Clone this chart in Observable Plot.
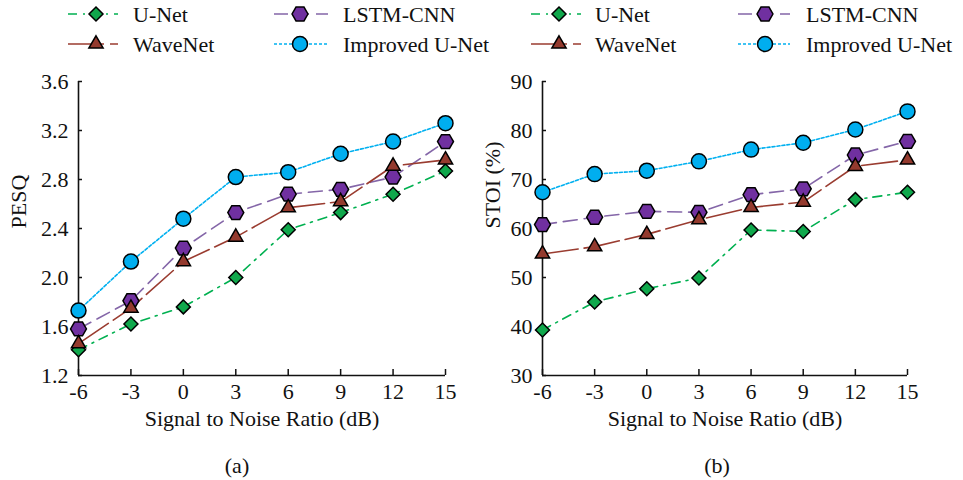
<!DOCTYPE html>
<html>
<head>
<meta charset="utf-8">
<script src="https://cdn.jsdelivr.net/npm/d3@7"></script>
<script src="https://cdn.jsdelivr.net/npm/@observablehq/plot@0.6"></script>
<style>
  html, body { margin: 0; padding: 0; background: #fff; }
  #root { position: relative; width: 963px; height: 480px; font-family: "Liberation Serif", Tinos, "Times New Roman", Times, "DejaVu Serif", "Noto Serif", serif; color: #111; }
  #root svg text { font-family: "Liberation Serif", Tinos, "Times New Roman", Times, "DejaVu Serif", "Noto Serif", serif; }
  .panel { position: absolute; top: 60px; }
  .caption { position: absolute; top: 453px; font-size: 22px; line-height: 26px; transform: translateX(-50%); }
  #legend { position: absolute; left: 0; top: 0; }
</style>
</head>
<body>
<div id="root">
  <svg id="legend" width="963" height="60"></svg>
  <div class="panel" id="pa" style="left:0px"></div>
  <div class="panel" id="pb" style="left:480px"></div>
  <div class="caption" style="left:237px">(a)</div>
  <div class="caption" style="left:717px">(b)</div>
</div>
<script>
// ---- data ----
const snr = [-6, -3, 0, 3, 6, 9, 12, 15];
const seriesNames = ["U-Net", "WaveNet", "LSTM-CNN", "Improved U-Net"];

const pesqUNet     = [1.41, 1.62, 1.76, 2.00, 2.39, 2.53, 2.68, 2.87];
const pesqWaveNet  = [1.46, 1.75, 2.13, 2.33, 2.57, 2.62, 2.91, 2.96];
const pesqLSTMCNN  = [1.58, 1.81, 2.24, 2.53, 2.68, 2.72, 2.82, 3.11];
const pesqImproved = [1.73, 2.13, 2.48, 2.82, 2.86, 3.01, 3.11, 3.26];

const stoiUNet     = [39.3, 45.0, 47.7, 49.9, 59.7, 59.4, 65.9, 67.4];
const stoiWaveNet  = [54.8, 56.3, 58.8, 61.8, 64.3, 65.4, 72.7, 74.0];
const stoiLSTMCNN  = [60.8, 62.3, 63.5, 63.3, 66.9, 68.1, 75.0, 77.8];
const stoiImproved = [67.4, 71.1, 71.8, 73.7, 76.1, 77.5, 80.2, 83.9];

const pesqTicks = [1.2, 1.6, 2.0, 2.4, 2.8, 3.2, 3.6];
const stoiTicks = [30, 40, 50, 60, 70, 80, 90];

const FONT = '"Liberation Serif", Tinos, "Times New Roman", Times, "DejaVu Serif", "Noto Serif", serif';
const FS = 22;

// ---- styles ----
const hexFlat = {
  draw(context, size) {
    const r = Math.sqrt(size / Math.PI);
    const rx = r * Math.sqrt(4 / 3), hx = rx / 2;
    context.moveTo(rx, 0);
    context.lineTo(hx, r);
    context.lineTo(-hx, r);
    context.lineTo(-rx, 0);
    context.lineTo(-hx, -r);
    context.lineTo(hx, -r);
    context.closePath();
  }
};
const styles = {
  "U-Net":          {line: "#00b050", fill: "#10a84c", dash: "9,6,2,6", symbol: "diamond2", d3sym: d3.symbolDiamond2, r: 6.3},
  "WaveNet":        {line: "#9a3c30", fill: "#943a2e", dash: "36,6",    symbol: "triangle", d3sym: d3.symbolTriangle, r: 5.3},
  "LSTM-CNN":       {line: "#8466a8", fill: "#7030a0", dash: "14,7",    symbol: hexFlat,    d3sym: hexFlat,           r: 6.9},
  "Improved U-Net": {line: "#00b0f0", fill: "#00aeef", dash: "3,2",     symbol: "circle",   d3sym: d3.symbolCircle,   r: 7.5}
};
const drawOrder = ["U-Net", "LSTM-CNN", "WaveNet", "Improved U-Net"];

function makeData(arrs) {
  const out = [];
  seriesNames.forEach((s, i) => snr.forEach((x, j) => out.push({series: s, x, y: arrs[i][j]})));
  return out;
}

function panel({values, width, marginLeft, marginRight, yDomain, yTicks, yFmt, yLabel, yLabelDx}) {
  const data = makeData(values);
  const marks = [
    Plot.axisX({ticks: snr, tickSize: -6, tickPadding: 14, tickFormat: d => String(d), strokeWidth: 1.5, label: null, fill: "#111"}),
    Plot.axisY({ticks: yTicks, tickSize: -4, tickPadding: 14, tickFormat: yFmt, strokeWidth: 1.5, label: null, fill: "#111"}),
    Plot.ruleX([snr[0]], {stroke: "#111", strokeWidth: 1.6}),
    Plot.ruleY([yDomain[0]], {stroke: "#111", strokeWidth: 1.6}),
    Plot.text([yLabel], {text: d => d, frameAnchor: "left", dx: yLabelDx, rotate: -90, fontSize: FS, fill: "#111"}),
    Plot.text(["Signal to Noise Ratio (dB)"], {text: d => d, frameAnchor: "bottom", dy: 50, fontSize: FS, fill: "#111"})
  ];
  for (const s of drawOrder) {
    const st = styles[s];
    marks.push(Plot.line(data.filter(d => d.series === s), {x: "x", y: "y", stroke: st.line, strokeWidth: 1.6, strokeDasharray: st.dash}));
  }
  for (const s of drawOrder) {
    const st = styles[s];
    marks.push(Plot.dot(data.filter(d => d.series === s), {x: "x", y: "y", symbol: st.symbol, r: st.r, fill: st.fill, stroke: "#000", strokeWidth: 1.5}));
  }
  const svg = Plot.plot({
    width, height: 380,
    marginLeft, marginRight, marginTop: 21, marginBottom: 65,
    style: {fontSize: FS + "px", color: "#111", background: "#fff"},
    x: {domain: [-6, 15]},
    y: {domain: yDomain},
    marks
  });
  svg.style.fontFamily = FONT;
  return svg;
}

document.getElementById("pa").appendChild(panel({
  values: [pesqUNet, pesqWaveNet, pesqLSTMCNN, pesqImproved],
  width: 481, marginLeft: 78, marginRight: 36,
  yDomain: [1.2, 3.6], yTicks: pesqTicks, yFmt: d3.format(".1f"),
  yLabel: "PESQ", yLabelDx: -60
}));
document.getElementById("pb").appendChild(panel({
  values: [stoiUNet, stoiWaveNet, stoiLSTMCNN, stoiImproved],
  width: 483, marginLeft: 62, marginRight: 56,
  yDomain: [30, 90], yTicks: stoiTicks, yFmt: d3.format("d"),
  yLabel: "STOI (%)", yLabelDx: -50
}));

// ---- legends ----
const legendSvg = d3.select("#legend");
const legendLayouts = [
  {offset: 0,   cols: [{x1: 68, x2: 118, m: 96, t: 133}, {x1: 274, x2: 328, m: 300, t: 343}]},
  {offset: 480, cols: [{x1: 51, x2: 101, m: 79, t: 115}, {x1: 258, x2: 310, m: 285, t: 326}]}
];
const legendItems = [
  {name: "U-Net", col: 0, row: 0}, {name: "LSTM-CNN", col: 1, row: 0},
  {name: "WaveNet", col: 0, row: 1}, {name: "Improved U-Net", col: 1, row: 1}
];
const rowY = [14, 44];
for (const L of legendLayouts) {
  for (const it of legendItems) {
    const c = L.cols[it.col], y = rowY[it.row], st = styles[it.name];
    const g = legendSvg.append("g").attr("transform", `translate(${L.offset},0)`);
    g.append("line").attr("x1", c.x1).attr("x2", c.x2).attr("y1", y).attr("y2", y)
      .attr("stroke", st.line).attr("stroke-width", 1.6).attr("stroke-dasharray", st.dash);
    g.append("path").attr("d", d3.symbol(st.d3sym, Math.PI * st.r * st.r)())
      .attr("transform", `translate(${c.m},${y})`)
      .attr("fill", st.fill).attr("stroke", "#000").attr("stroke-width", 1.5);
    g.append("text").attr("x", c.t).attr("y", y).attr("dy", "0.35em")
      .attr("font-size", FS).style("font-family", FONT)
      .attr("fill", "#111").text(it.name);
  }
}
</script>
</body>
</html>
